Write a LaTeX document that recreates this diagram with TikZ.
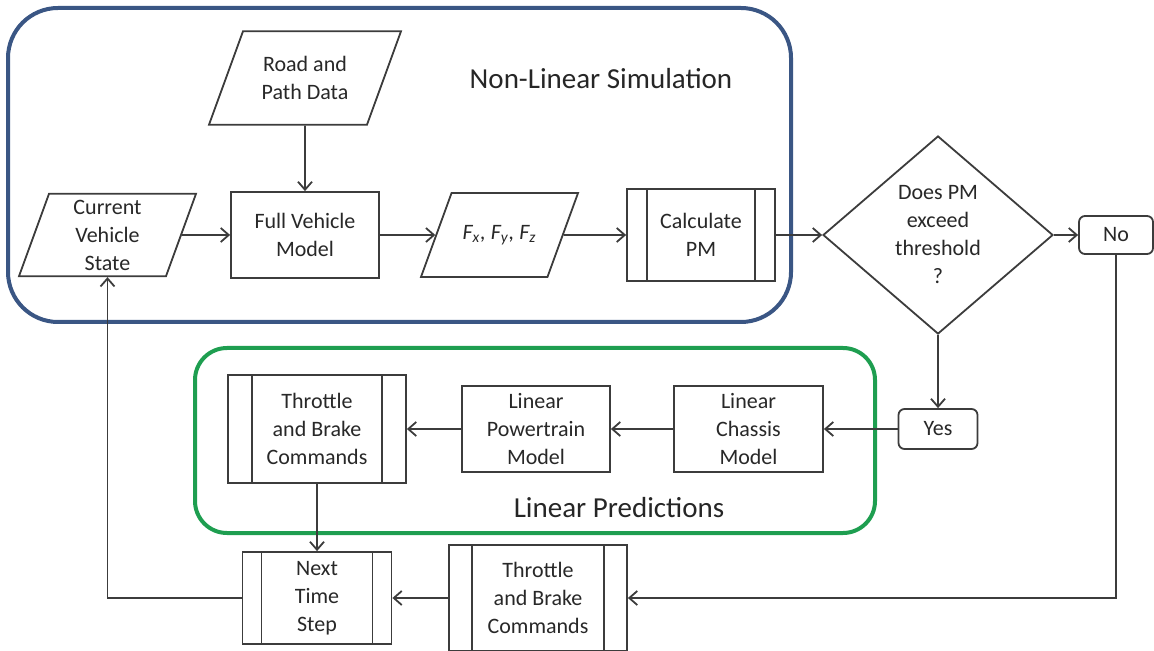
\documentclass[tikz,border=0pt]{standalone}
\usepackage{fontspec}
\setmainfont{Carlito}
\usetikzlibrary{shapes.geometric,arrows.meta}
\definecolor{linegray}{RGB}{60,60,60}
\definecolor{textgray}{RGB}{40,40,40}
\definecolor{simblue}{RGB}{58,86,132}
\definecolor{predgreen}{RGB}{30,158,80}
\begin{document}
\begin{tikzpicture}
[x=0.5pt,y=-0.5pt,font=\fontsize{11}{14}\selectfont,text=textgray,
  procdecorate/.style={shape=rectangle,draw=linegray,line width=0.9pt,fill=white,%
    align=center,inner sep=1pt,minimum width=74pt,minimum height=43pt},
  datadecorate/.style={shape=trapezium,trapezium left angle=70,trapezium right angle=110,%
    trapezium stretches body=true,draw=linegray,line width=0.9pt,fill=white,align=center,%
    inner xsep=1pt,inner ysep=#1},
  datadecorate/.default=3pt,
  subdecorate/.style={procdecorate,path picture={%
    \draw[linegray,line width=0.9pt]
      ([xshift=#1]path picture bounding box.north west) -- ([xshift=#1]path picture bounding box.south west)
      ([xshift=-#1]path picture bounding box.north east) -- ([xshift=-#1]path picture bounding box.south east);}},
  subdecorate/.default=10pt,
  choicedecorate/.style={shape=diamond,draw=linegray,line width=0.9pt,fill=white,align=center,%
    inner sep=0pt,minimum width=115pt,minimum height=99pt},
  termdecorate/.style={shape=rectangle,rounded corners=3pt,draw=linegray,line width=0.9pt,%
    fill=white,minimum height=19pt},
  groupdecorate/.style={line width=2pt,draw=#1},
  titledecorate/.style={font=\fontsize{14.5}{17}\selectfont,text=black!85},
  linedecorate/.style={draw=linegray,line width=0.9pt,-{Straight Barb[length=4pt,width=7pt]}}]
\useasboundingbox (0,0) rectangle (1154,651);
%%% group frames
\draw[groupdecorate=simblue,rounded corners=25pt] (8,8) rectangle (791,322);
\draw[groupdecorate=predgreen,rounded corners=16pt] (195,348) rectangle (875,533);
\node (simtitle) at (601,79) [titledecorate] {Non-Linear Simulation};
\node (predtitle) at (619,508) [titledecorate] {Linear Predictions};
%%% non-linear simulation
% nodes or vertices
\node (road) at (305,78) [datadecorate=12.5pt,minimum width=96pt] {Road and\\Path Data};
\node (state) at (107.5,235) [datadecorate=3pt,minimum width=88.5pt] {Current\\Vehicle\\State};
\node (full) at (305,235) [procdecorate] {Full Vehicle\\Model};
\node (forces) at (499.5,235) [datadecorate=16pt,minimum width=78.5pt]
  {\itshape F\textsubscript{x}, F\textsubscript{y}, F\textsubscript{z}};
\node (calc) at (701,235) [subdecorate,minimum height=46pt] {Calculate\\PM};
%%% decision
\node (check) at (938,235) [choicedecorate] {Does PM\\exceed\\threshold\\?};
\node (no) at (1116,235) [termdecorate,minimum width=37pt] {No};
\node (yes) at (938,429) [termdecorate,minimum width=39.5pt,minimum height=20pt] {Yes};
%%% linear predictions
\node (chassis) at (748.5,429) [procdecorate,minimum width=74.5pt] {Linear\\Chassis\\Model};
\node (powertrain) at (536,429) [procdecorate] {Linear\\Powertrain\\Model};
\node (cmdlin) at (317,429) [subdecorate=12pt,minimum width=89pt,minimum height=54pt] {Throttle\\and Brake\\Commands};
%%% time stepping
\node (nextstep) at (317,598) [subdecorate=9.5pt,minimum width=74.5pt,minimum height=46pt] {Next\\Time\\Step};
\node (cmdnl) at (538,598) [subdecorate=11.5pt,minimum width=89pt,minimum height=53pt] {Throttle\\and Brake\\Commands};
% edges or lines
\path
(road) edge[linedecorate] (full)
(state) edge[linedecorate] (full)
(full) edge[linedecorate] (forces)
(forces) edge[linedecorate] (calc)
(calc) edge[linedecorate] (check)
(check) edge[linedecorate] (no)
(check) edge[linedecorate] (yes)
(yes) edge[linedecorate] (chassis)
(chassis) edge[linedecorate] (powertrain)
(powertrain) edge[linedecorate] (cmdlin)
(cmdlin) edge[linedecorate] (nextstep)
(cmdnl) edge[linedecorate] (nextstep)
(no) edge[linedecorate,to path={|- (\tikztotarget)}] (cmdnl)
(nextstep) edge[linedecorate,to path={-| (\tikztotarget)}] (state);
\end{tikzpicture}
\end{document}
